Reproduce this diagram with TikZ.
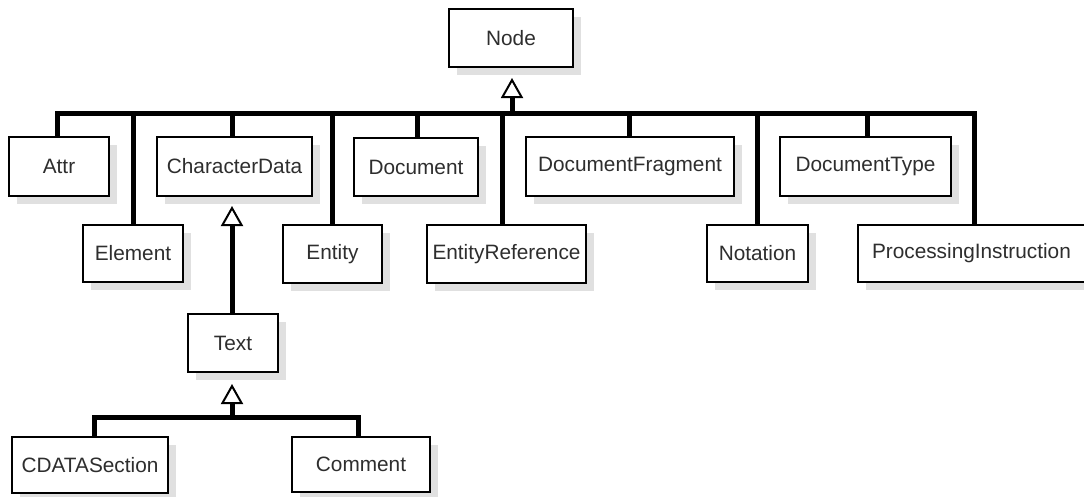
\documentclass[tikz,border=0pt]{standalone}
\usepackage{fontspec}
\setmainfont{Liberation Sans}
\usetikzlibrary{arrows.meta,shadows}
\begin{document}
\begin{tikzpicture}[x=1pt,y=-1pt,
  cls/.style={draw=black, line width=2pt, fill=white, inner sep=0pt,
    text=black!82, font=\fontsize{20.8}{24}\selectfont,
    drop shadow={shadow xshift=8pt, shadow yshift=-8pt, fill=black!12, opacity=1, draw=none}},
  busline/.style={line width=5pt, line join=miter},
  inh/.style={line width=5pt, -{Triangle[width=22pt,length=20pt,open,fill=white,line width=2pt]}}
]
\useasboundingbox (0,0) rectangle (1084,496);
\node[cls, minimum width=124pt, minimum height=58pt] (node) at (511,38) {Node};
\node[cls, minimum width=100pt, minimum height=59pt] (attr) at (59,166.5) {Attr};
\node[cls, minimum width=155pt, minimum height=59pt] (cd) at (234.5,166.5) {CharacterData};
\node[cls, minimum width=124pt, minimum height=58pt] (doc) at (416,167) {Document};
\node[cls, minimum width=208pt, minimum height=59pt] (frag) at (630,166.5) {DocumentFragment};
\node[cls, minimum width=171pt, minimum height=59pt] (dtype) at (865.5,166.5) {DocumentType};
\node[cls, minimum width=100pt, minimum height=57pt] (elem) at (133,253.5) {Element};
\node[cls, minimum width=99pt, minimum height=58pt] (ent) at (332.5,254) {Entity};
\node[cls, minimum width=159pt, minimum height=58pt] (eref) at (506.5,254) {EntityReference};
\node[cls, minimum width=101pt, minimum height=57pt] (nota) at (757.5,253.5) {Notation};
\node[cls, minimum width=232pt, minimum height=57pt, text width=204pt, align=left] (pi) at (974,253.5) {ProcessingInstruction};
\node[cls, minimum width=90pt, minimum height=58pt] (text) at (233,343) {Text};
\node[cls, minimum width=156pt, minimum height=56pt] (cdata) at (90,465) {CDATASection};
\node[cls, minimum width=138pt, minimum height=55pt] (comm) at (361,464.5) {Comment};
\coordinate (bus) at (512,113);
\coordinate (subbus) at (232,417);
% main bus
\draw[busline] ([xshift=-2pt]attr.north) |- (bus) -| (pi.north);
\draw[busline] (elem.north) -- (elem.north |- bus);
\draw[busline] ([xshift=-2.5pt]cd.north) -- ([xshift=-2.5pt]cd.north |- bus);
\draw[busline] (ent.north) -- (ent.north |- bus);
\draw[busline] ([xshift=1pt]doc.north) -- ([xshift=1pt]doc.north |- bus);
\draw[busline] ([xshift=-4.5pt]eref.north) -- ([xshift=-4.5pt]eref.north |- bus);
\draw[busline] ([xshift=-1pt]frag.north) -- ([xshift=-1pt]frag.north |- bus);
\draw[busline] (nota.north) -- (nota.north |- bus);
\draw[busline] ([xshift=1.5pt]dtype.north) -- ([xshift=1.5pt]dtype.north |- bus);
\draw[inh, shorten >=10pt] (bus) -- (bus |- node.south);
% CharacterData <- Text
\draw[inh, shorten >=9pt] ([xshift=-1pt]text.north) -- ([xshift=-1pt]text.north |- cd.south);
% Text <- CDATASection, Comment
\draw[busline] ([xshift=4pt]cdata.north) |- (subbus) -| ([xshift=-3pt]comm.north);
\draw[inh, shorten >=11pt] (subbus) -- (subbus |- text.south);
\end{tikzpicture}
\end{document}
